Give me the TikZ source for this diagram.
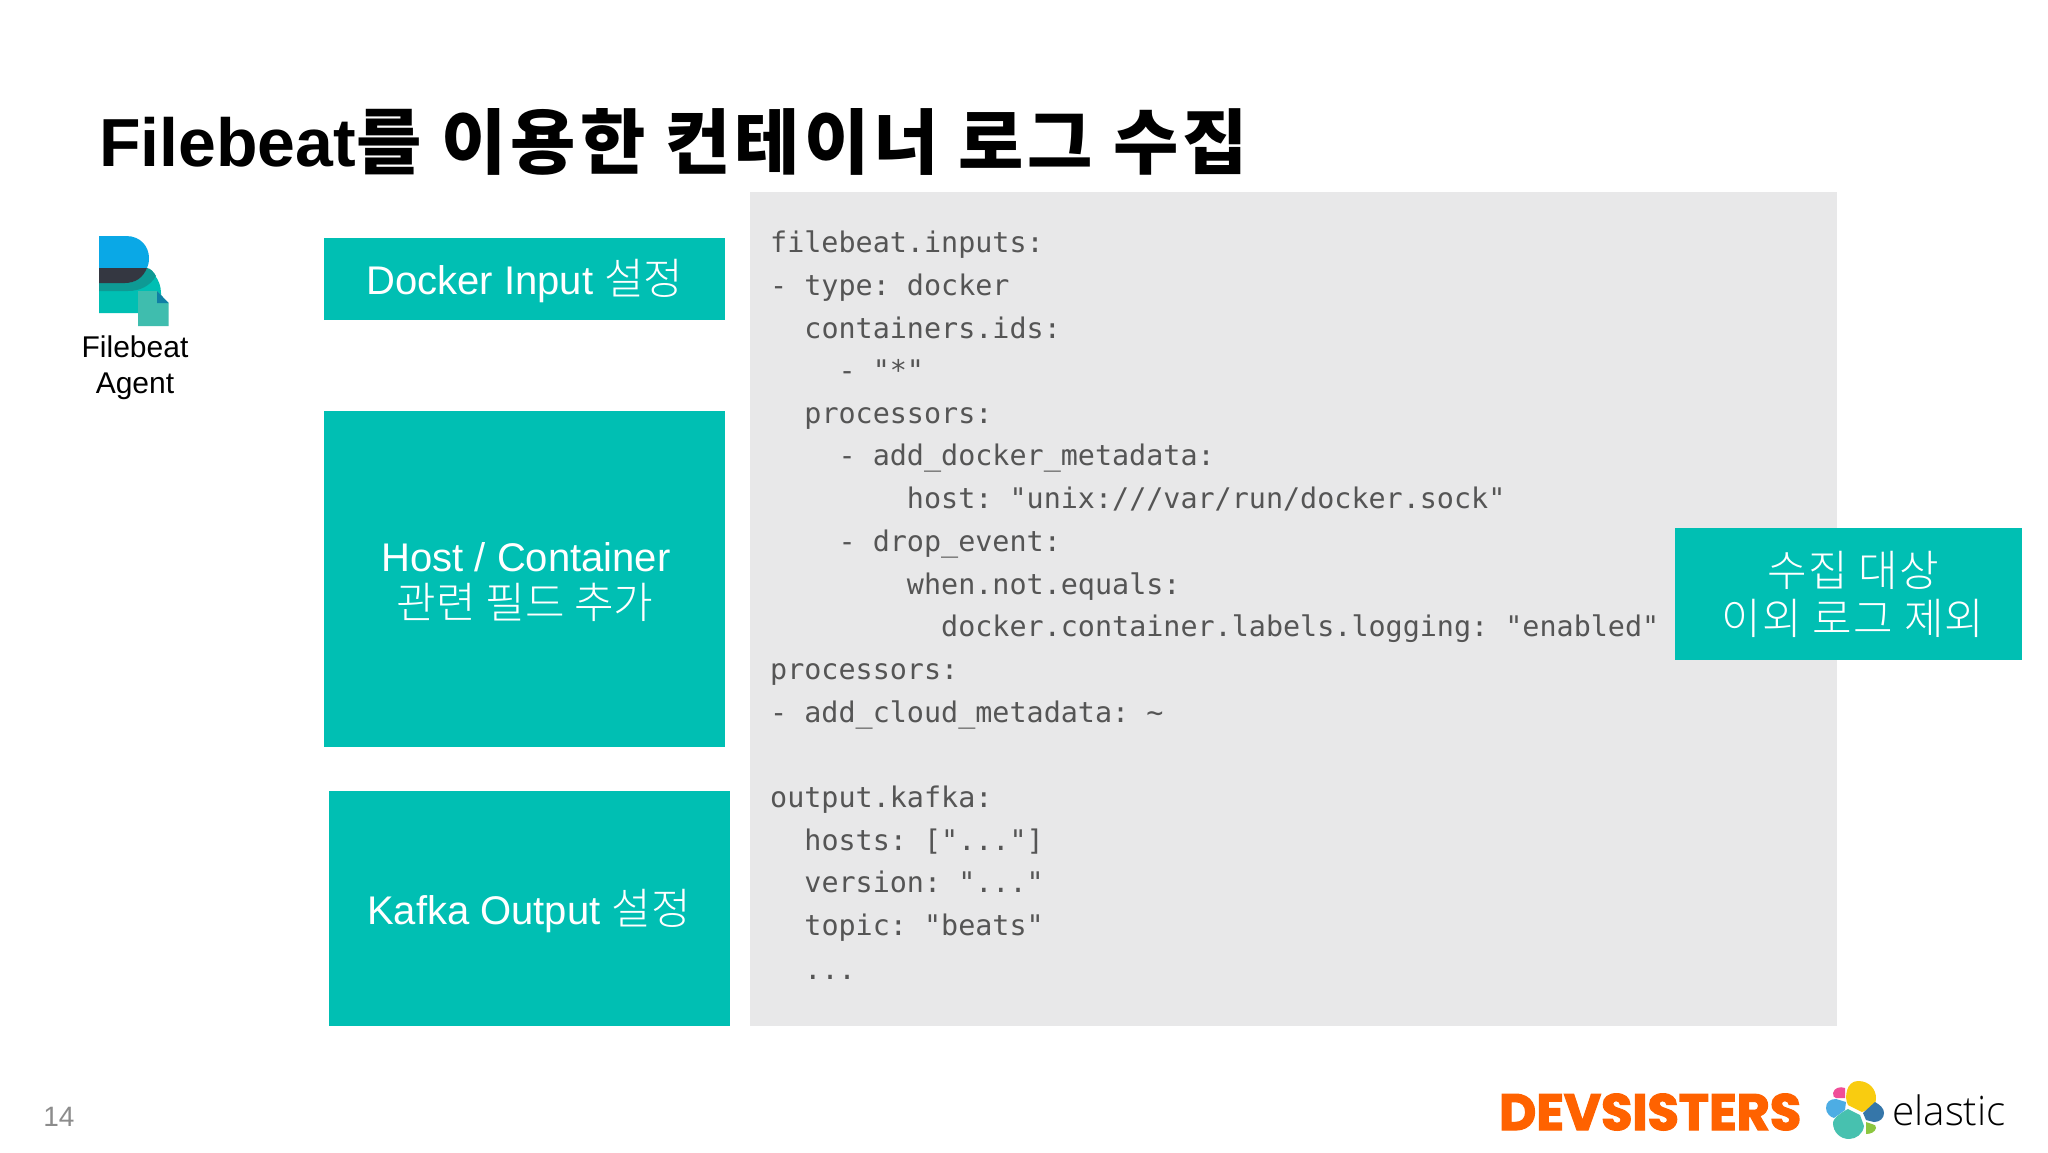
\documentclass[tikz,border=0pt]{standalone}
\usepackage{fontspec}
\setmainfont{Liberation Sans}
\setmonofont{DejaVu Sans Mono}
\newfontfamily\krbold{Noto Sans CJK KR Bold}
\newfontfamily\krlight{Noto Sans CJK KR Light}
\newfontfamily\devfont[FakeBold=2.5]{Poppins}
\newfontfamily\elasticfont{Open Sans Light}
\definecolor{tealbox}{HTML}{00BFB3}
\definecolor{graybox}{HTML}{E8E8E9}
\definecolor{codegray}{HTML}{555555}
\definecolor{fbband}{HTML}{0E9A94}
\definecolor{fbblue}{HTML}{0AA8E6}
\definecolor{fbdark}{HTML}{343741}
\definecolor{fbdoc}{HTML}{3FBDAE}
\definecolor{fbfold}{HTML}{0F7FA5}
\definecolor{devorange}{HTML}{FF6200}
\definecolor{elyellow}{HTML}{F9CC10}
\definecolor{elpink}{HTML}{F04E98}
\definecolor{ellblue}{HTML}{4DADE4}
\definecolor{elgreen}{HTML}{47C1AF}
\definecolor{eldblue}{HTML}{3576A9}
\definecolor{ellime}{HTML}{8CC63F}
\newcommand{\sz}[1]{\fontsize{#1}{#1}\selectfont}
\newcommand{\krt}[1]{{\krlight\sz{43}#1}}
\tikzset{
  tbox/.style={fill=tealbox,draw=none,inner sep=0pt,minimum width=0pt,minimum height=0pt,anchor=north west},
  tlabel/.style={inner sep=0pt,text=white,font=\sz{40},anchor=base},
  codeline/.style={anchor=base west,inner sep=0pt,text=codegray,font=\ttfamily\sz{28.4}},
}
\begin{document}
\begin{tikzpicture}[x=1pt,y=-1pt]
\useasboundingbox (0,0) rectangle (2048,1153);
\fill[white] (0,0) rectangle (2048,1153);
% title
\node[anchor=base west,inner sep=0pt,font=\bfseries\sz{68}] (title) at (99,166)
  {Filebeat\raisebox{-2pt}{\krbold\sz{71}\addfontfeature{LetterSpace=5.5}를 이용한 컨테이너 로그 수집}};
% code panel
\node[fill=graybox,inner sep=0pt,minimum width=1087pt,minimum height=834pt,anchor=north west] (panel) at (750,192) {};
\node[codeline] (l1) at (770,252) {filebeat.inputs:};
\node[codeline] (l2) at (770,295.5) {- type: docker};
\node[codeline] (l3) at (770,338) {~~containers.ids:};
\node[codeline] (l4) at (770,380.4) {~~~~- "*"};
\node[codeline] (l5) at (770,423.2) {~~processors:};
\node[codeline] (l6) at (770,465.6) {~~~~- add\_docker\_metadata:};
\node[codeline] (l7) at (770,508.8) {~~~~~~~~host: "unix:///var/run/docker.sock"};
\node[codeline] (l8) at (770,551.6) {~~~~- drop\_event:};
\node[codeline] (l9) at (770,594.4) {~~~~~~~~when.not.equals:};
\node[codeline] (l10) at (770,636.8) {~~~~~~~~~~docker.container.labels.logging: "enabled"};
\node[codeline] (l11) at (770,679) {processors:};
\node[codeline] (l12) at (770,722.8) {- add\_cloud\_metadata: \textasciitilde};
\node[codeline] (l14) at (770,807.4) {output.kafka:};
\node[codeline] (l15) at (770,850.2) {~~hosts: ["..."]};
\node[codeline] (l16) at (770,892.5) {~~version: "..."};
\node[codeline] (l17) at (770,935.5) {~~topic: "beats"};
\node[codeline] (l18) at (770,979.6) {~~...};
% teal boxes
\node[tbox,minimum width=401pt,minimum height=82pt] (docker) at (324,238) {};
\node[tlabel] (dockerlabel) at (525,294) {Docker Input \krt{설정}};
\node[tbox,minimum width=401pt,minimum height=336pt] (host) at (324,411) {};
\node[tlabel] (host1) at (526,571) {Host / Container};
\node[tlabel] (host2) at (525,618) {\krt{관련 필드 추가}};
\node[tbox,minimum width=401pt,minimum height=235pt] (kafka) at (329,791) {};
\node[tlabel] (kafkalabel) at (529,924) {Kafka Output \krt{설정}};
\node[tbox,minimum width=347pt,minimum height=132pt] (filter) at (1675,528) {};
\node[tlabel] (filter1) at (1853,586) {\krlight\sz{43}\addfontfeature{LetterSpace=3}수집 대상};
\node[tlabel] (filter2) at (1853,634) {\krlight\sz{43}\addfontfeature{LetterSpace=3}이외 로그 제외};
% filebeat logo
\fill[tealbox] (99,280) -- (140,268) .. controls (152,268) and (161,280) .. (161,293) -- (161,313) -- (99,313) -- cycle;
\fill[fbband] (99,283) -- (125,283) .. controls (135,283) and (143,278) .. (147,268) .. controls (150,268) and (154,272) .. (156,276) .. controls (150,286) and (140,291) .. (128,291) -- (99,291) -- cycle;
\fill[fbblue] (99,236) -- (126,236) .. controls (141,236) and (149,247) .. (149,258) .. controls (149,263) and (148,266) .. (147,268) -- (99,268) -- cycle;
\fill[fbdark] (99,268) -- (147,268) .. controls (143,278) and (135,283) .. (125,283) -- (99,283) -- cycle;
\fill[fbdoc] (138,291) -- (157,291) -- (168.5,303) -- (168.5,326) -- (138,326) -- cycle;
\fill[fbfold] (157,291) -- (168.5,303) -- (157,303) -- cycle;
\node[anchor=base,inner sep=0pt,font=\sz{30},align=center] (agent1) at (135,357) {Filebeat};
\node[anchor=base,inner sep=0pt,font=\sz{30},align=center] (agent2) at (135,393) {Agent};
% page number
\node[anchor=base,inner sep=0pt,font=\sz{28},text=black!45] (page) at (59,1126) {14};
% devsisters logo
\node[anchor=base west,inner sep=0pt,text=devorange,font=\devfont\bfseries\sz{51}] (dev) at (1499,1130) {DEVSISTERS};
% elastic logo
\fill[elyellow] (1858,1081) .. controls (1870,1081) and (1876,1090) .. (1876,1098) .. controls (1876,1103) and (1874,1105) .. (1872,1108) -- (1862,1112) -- (1848,1105) .. controls (1844,1098) and (1846,1081) .. (1858,1081) -- cycle;
\fill[elpink] (1833,1093) .. controls (1834,1088) and (1840,1086) .. (1845,1088) -- (1845,1098) -- (1836,1098) .. controls (1834,1098) and (1833,1096) .. (1833,1093) -- cycle;
\fill[ellblue] (1826,1108) .. controls (1826,1102) and (1830,1099) .. (1836,1099) -- (1846,1102) -- (1845,1110) -- (1834,1118) .. controls (1830,1117) and (1826,1113) .. (1826,1108) -- cycle;
\fill[elgreen] (1848,1109) -- (1860,1115) -- (1864,1126) .. controls (1863,1134) and (1856,1139) .. (1849,1139) .. controls (1840,1139) and (1833,1132) .. (1833,1123) .. controls (1833,1118) and (1842,1112) .. (1848,1109) -- cycle;
\fill[eldblue] (1875,1102) .. controls (1880,1105) and (1884,1108) .. (1884,1113) .. controls (1884,1118) and (1880,1122) .. (1874,1122) -- (1866,1120) -- (1863,1113) -- cycle;
\fill[ellime] (1866,1122) -- (1872,1124) .. controls (1875,1124) and (1876,1126) .. (1876,1128) .. controls (1875,1132) and (1871,1134) .. (1866,1134) -- cycle;
\node[anchor=base west,inner sep=0pt,font=\elasticfont\sz{40.5}] (elastic) at (1892,1125) {elastic};
\end{tikzpicture}
\end{document}
